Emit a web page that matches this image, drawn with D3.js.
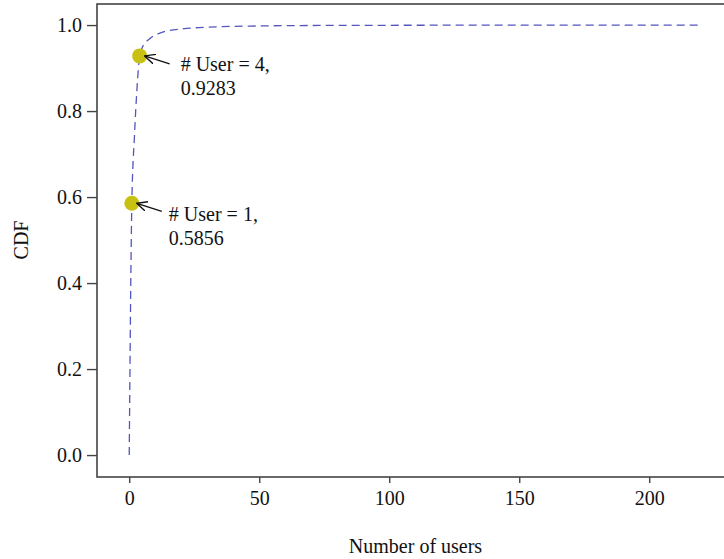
<!DOCTYPE html>
<head>
    <meta charset="utf-8">
    <style>
        body { margin: 0; background: #fff; }
        text { font-family: "Liberation Serif", "DejaVu Serif", serif; fill: #111; }
    </style>
</head>
<body>
    <div id="chart"></div>
    <script src="https://d3js.org/d3.v7.min.js"></script>
    <script>
        // CDF of number of users
        var users = [0, 1, 2, 3, 4, 5, 6, 7, 8, 9, 10, 12, 15, 20, 25, 30, 40, 50, 70, 100, 150, 220];
        var cdf   = [0, 0.5856, 0.7410, 0.8540, 0.9283, 0.9480, 0.9580, 0.9640, 0.9690, 0.9735, 0.9770,
                     0.9820, 0.9870, 0.9910, 0.9935, 0.9950, 0.9970, 0.9980, 0.9990, 0.9995, 0.9998, 1.0];

        var markedUsers = [1, 4];
        var markedCdf = [0.5856, 0.9283];

        var xTicks = [0, 50, 100, 150, 200];
        var yTicks = [0, 0.2, 0.4, 0.6, 0.8, 1.0];

        var W = 724, H = 559;
        var box = {left: 97, right: 734, top: 4, bottom: 477};
        // label offsets for the two notes (px)
        var noteDx = [37, 41], noteDy = [18, 15];

        var x = d3.scaleLinear().domain([-12.4, 232.6]).range([box.left, box.right]);
        var y = d3.scaleLinear().domain([-0.051, 1.049]).range([box.bottom, box.top]);

        var svg = d3.select("#chart").append("svg")
            .attr("width", W)
            .attr("height", H);

        svg.append("defs").append("marker")
            .attr("id", "arrow")
            .attr("viewBox", "0 0 10 10")
            .attr("refX", 9.5)
            .attr("refY", 5)
            .attr("markerWidth", 11)
            .attr("markerHeight", 11)
            .attr("markerUnits", "userSpaceOnUse")
            .attr("orient", "auto")
            .append("path")
            .attr("d", "M0,0.5 L9.5,5 L0,9.5")
            .attr("fill", "none")
            .attr("stroke", "#111")
            .attr("stroke-width", 1.3);

        // plot box
        svg.append("rect")
            .attr("x", box.left)
            .attr("y", box.top)
            .attr("width", box.right - box.left)
            .attr("height", box.bottom - box.top)
            .attr("fill", "none")
            .attr("stroke", "#444")
            .attr("stroke-width", 1.6);

        // axes
        var xAxis = svg.append("g")
            .attr("transform", "translate(0," + box.bottom + ")")
            .call(d3.axisBottom(x).tickValues(xTicks).tickSize(6).tickPadding(8).tickFormat(d3.format("d")));
        xAxis.select(".domain").remove();
        xAxis.selectAll("line").attr("stroke", "#444").attr("stroke-width", 1.4);
        xAxis.selectAll("text").style("font-size", "20px").attr("fill", "#111")
            .style("font-family", "Liberation Serif, serif");

        var yAxis = svg.append("g")
            .attr("transform", "translate(" + box.left + ",0)")
            .call(d3.axisLeft(y).tickValues(yTicks).tickSize(10).tickPadding(5).tickFormat(d3.format(".1f")));
        yAxis.select(".domain").remove();
        yAxis.selectAll("line").attr("stroke", "#444").attr("stroke-width", 1.4);
        yAxis.selectAll("text").style("font-size", "20px").attr("fill", "#111")
            .style("font-family", "Liberation Serif, serif");

        // axis titles
        svg.append("text")
            .attr("x", (box.left + box.right) / 2)
            .attr("y", 553)
            .attr("text-anchor", "middle")
            .style("font-size", "20px")
            .text("Number of users");

        svg.append("text")
            .attr("transform", "translate(28,240) rotate(-90)")
            .attr("text-anchor", "middle")
            .style("font-size", "20px")
            .text("CDF");

        // CDF line
        var line = d3.line()
            .x(function(d, i) { return x(users[i]); })
            .y(function(d) { return y(d); })
            .curve(d3.curveMonotoneX);

        svg.append("path")
            .datum(cdf)
            .attr("d", line)
            .attr("fill", "none")
            .attr("stroke", "#5256bd")
            .attr("stroke-width", 1.3)
            .attr("stroke-dasharray", "8,5");

        // marked points
        svg.selectAll(".pt")
            .data(markedUsers)
            .enter()
            .append("circle")
            .attr("class", "pt")
            .attr("cx", function(d) { return x(d); })
            .attr("cy", function(d, i) { return y(markedCdf[i]); })
            .attr("r", 7.5)
            .attr("fill", "#c9c014");

        // annotations
        var notes = svg.selectAll(".note")
            .data(markedUsers)
            .enter()
            .append("g")
            .attr("class", "note")
            .attr("transform", function(d, i) {
                return "translate(" + x(d) + "," + y(markedCdf[i]) + ")";
            });

        notes.append("line")
            .attr("x1", 30)
            .attr("y1", 8)
            .attr("x2", 5)
            .attr("y2", 0)
            .attr("stroke", "#111")
            .attr("stroke-width", 1.3)
            .attr("marker-end", "url(#arrow)");

        notes.append("text")
            .attr("x", function(d, i) { return noteDx[i]; })
            .attr("y", function(d, i) { return noteDy[i]; })
            .style("font-size", "20px")
            .text(function(d) { return "# User = " + d + ","; });

        notes.append("text")
            .attr("x", function(d, i) { return noteDx[i]; })
            .attr("y", function(d, i) { return noteDy[i] + 24; })
            .style("font-size", "20px")
            .text(function(d, i) { return d3.format(".4f")(markedCdf[i]); });
    </script>
</body>
</html>
